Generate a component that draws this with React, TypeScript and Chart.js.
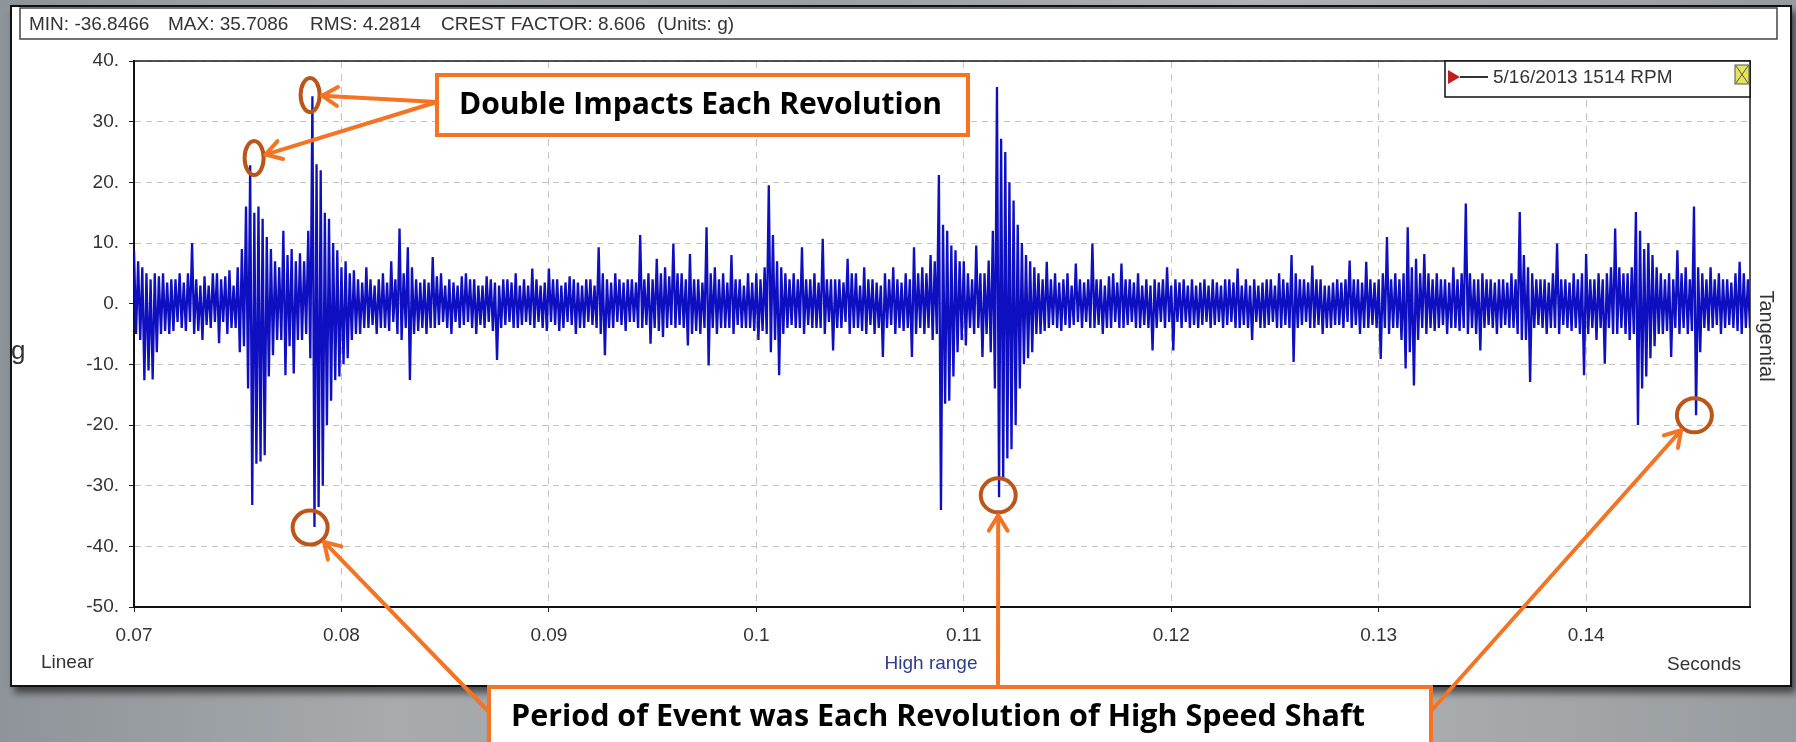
import React, { useEffect, useRef } from "react";
import { Chart, registerables } from "chart.js";

Chart.register(...registerables);

// ---------- data ----------
const sampleStart = 0.07; // seconds
const sampleInterval = 0.0001; // seconds between plotted samples
const waveform = [
  8.8, -5, 7, -6, 6, -12.6, 5, -11, 4, -12.5, 5, -8, 4.5, -5, 5, -4.5, 3.5, -5, 4, -4.5,
  4, -3, 5, -4, 3.5, -4.5, 5, -3, 10, -5, 4, -4.5, 3, -6, 4.5, -3.5, 3, -4, 5, -3,
  5, -6.5, 4, -3, 4.5, -5, 5.5, -4, 3, -4, 6, -8, 9, -7, 16, -14, 22.8, -33.2, 15, -26.4,
  16, -26, 14, -25, 11, -12, 9, -8.5, 7, -6, 6, -6, 12, -11.8, 8, -7, 9, -11.5, 7, -6,
  8.3, -6, 7, -5, 12, -9, 34.2, -36.8, 23, -33.5, 22, -30, 15, -20, 14, -16, 10, -12.6, 8.8, -12,
  6, -10, 7, -9, 5, -6, 5.5, -5, 4, -5, 3.5, -4, 6, -4, 4, -3.5, 3, -5, 4, -4,
  5, -4, 3.5, -4.5, 7, -3, 4, -5, 12.4, -6, 5, -4, 9.3, -12.6, 6, -5, 4, -4.5, 3.5, -4,
  4, -5, 3.5, -4, 7.7, -4, 4.5, -3.5, 5, -3, 3, -4, 4, -5, 3.5, -3, 3, -4, 4.5, -3.5,
  5, -3, 4, -4, 4, -5, 3, -3.5, 3, -4, 4.5, -3, 4, -4.5, 3.5, -9.3, 3, -4, 4, -3.5,
  4, -3, 3.5, -4, 5, -4, 3, -3.5, 4, -3, 3, -3.5, 5.8, -4, 4, -3, 3, -4, 3.5, -4.5,
  5.8, -3, 4, -3.5, 4, -4.5, 3, -4, 3.5, -3, 4.5, -3.5, 4, -5, 3.5, -4, 3, -4, 4, -3,
  4, -3.5, 3, -4, 9.3, -5, 5, -8.5, 4, -4, 3.5, -4, 5, -3, 4, -3.5, 3.5, -4.5, 4, -3,
  4, -3, 3.5, -4, 11.3, -4, 4, -3.5, 5, -6.6, 4, -4, 7.4, -4.5, 5, -5.5, 6, -4, 4.5, -3.5,
  9.9, -4, 5, -3.5, 5, -4, 4, -6.9, 8.2, -5, 4, -4.5, 4, -5, 3.5, -4, 12.6, -10.2, 5, -4,
  6, -5, 4, -4, 5, -4, 3.5, -4, 8, -5, 4, -3.5, 4, -4, 3, -4, 5, -4, 3.5, -4.5,
  5, -6, 4, -4.5, 6, -5, 19.5, -8, 11.3, -6, 7, -11.8, 6, -5, 5, -4, 4, -3.5, 5, -4,
  4, -4, 9.3, -5, 4, -3.5, 4, -4, 5, -4, 3.5, -4, 10.7, -5, 4, -3, 4, -7.7, 4, -4,
  4, -4, 3.5, -3, 7.4, -5, 5, -4, 5, -4, 3, -4.5, 6, -5, 4, -3.5, 4, -5, 3.5, -4,
  3, -8.8, 5, -4, 4, -3.5, 6, -5, 4, -4, 3.5, -4.5, 5, -4, 4, -8.8, 9.3, -5, 5, -4,
  6, -5, 5, -4, 8, -6, 7, -5, 21.2, -34, 13, -16.5, 12, -16, 9.6, -12, 8.8, -8, 7, -6,
  7, -6.9, 5, -4, 4, -5, 9.6, -4, 5, -8.8, 5, -5, 7.1, -8, 12, -14, 35.7, -31.9, 27.2, -29,
  25, -25.5, 20, -24, 17, -20, 13, -14, 10, -10, 8, -9, 7, -8, 6, -5, 5, -5, 4, -4.5,
  6.9, -4, 4, -3.5, 5, -4, 3.5, -4.5, 4, -3.5, 5, -4, 3, -3.5, 6.6, -3, 4, -4, 3.5, -3,
  4, -4, 9.9, -4, 4, -3.5, 4, -5, 3, -4, 4.5, -4, 5, -3, 3.5, -4, 6.6, -4, 4, -3.5,
  4, -3, 3.5, -4, 5, -4, 3, -3.5, 4, -4, 3, -7.7, 4, -4, 3.5, -3, 4, -4, 6, -3,
  3, -7.7, 4, -3, 3.5, -4, 4, -3, 3, -4, 4, -3.5, 3, -4, 3.5, -3.5, 4, -3, 3, -4,
  4, -3.5, 3.5, -3, 3, -4, 4, -3.5, 4, -3, 3.5, -4, 5.8, -4, 3, -3.5, 4, -4, 3, -6,
  4, -3, 3, -4, 3.5, -4, 4, -3.5, 4, -3, 3, -4, 5, -4, 4, -3.5, 3.5, -4, 8, -9.6,
  5, -4, 4, -3.5, 4, -3, 3.5, -4, 6.3, -4, 4, -3.5, 4, -5, 3, -4, 3, -4, 3.5, -3.5,
  4, -3.5, 3.5, -4, 4, -3, 7.1, -4, 4, -3.5, 4, -5, 3.5, -4, 6.9, -4, 4, -3.5, 3.5, -4,
  4, -9.1, 5, -4, 11, -5, 4, -4, 5, -4, 4, -6, 5, -10.7, 12.6, -8, 6, -13.5, 7.4, -6,
  5, -4, 8.2, -5, 5, -4, 4, -4.5, 5, -4, 4, -3.5, 4, -5, 3.5, -4, 6, -4, 4, -4.5,
  5, -4, 16.5, -5, 5, -4, 4, -5, 4, -7.7, 5, -4, 4, -3.5, 4, -4, 3.5, -5, 4, -4,
  4, -3.5, 3.5, -4, 5, -4, 4, -5, 15.1, -6, 8, -6, 6, -12.9, 5, -4, 4, -3.5, 4, -4,
  4, -5, 3.5, -4, 5, -4, 9.9, -5, 4, -3.5, 4, -4, 3.5, -4.5, 5, -4, 4, -5, 5, -11.8,
  8.2, -5, 4, -4, 4, -6, 5, -4, 4, -9.9, 5, -4, 6, -5, 12.4, -5, 6, -4, 5, -5,
  5, -6, 6, -5, 15.1, -20, 12, -14, 9, -12, 10, -9, 8, -7, 6, -5, 5, -5, 4, -4.5,
  5, -8.8, 4, -4, 8.8, -5, 5, -4, 6, -5, 4, -4.5, 16, -18.4, 6, -8, 5, -4, 4, -4.5,
  6, -4, 4, -3.5, 5, -5, 4, -4, 4, -3.5, 3.5, -4, 5, -4.5, 6.9, -5, 5, -4, 4, -4,
];

const xTickValues = [0.07, 0.08, 0.09, 0.1, 0.11, 0.12, 0.13, 0.14];
const yTickValues = [40, 30, 20, 10, 0, -10, -20, -30, -40, -50];
const xMin = 0.07;
const xMax = 0.1479;
const yMin = -50;
const yMax = 40;

const statsLabels = ["MIN: -36.8466", "MAX: 35.7086", "RMS: 4.2814", "CREST FACTOR: 8.606", "(Units: g)"];
const legendLabel = "5/16/2013 1514 RPM";
const yAxisTitle = "g";
const rightTitle = "Tangential";
const bottomLeftLabel = "Linear";
const bottomCenterLabel = "High range";
const bottomRightLabel = "Seconds";
const calloutTop = "Double Impacts Each Revolution";
const calloutBottom = "Period of Event was Each Revolution of High Speed Shaft";

// circled impacts, in data units (seconds, g)
const doubleImpactMarks = [
  { t: 0.07849, g: 34.4 },
  { t: 0.07579, g: 24.0 },
];
const periodMarks = [
  { t: 0.07849, g: -36.9 },
  { t: 0.11166, g: -31.6 },
  { t: 0.14522, g: -18.4 },
];

// ---------- layout / style ----------
const W = 1796;
const H = 742;
const FONT = '"Liberation Sans", Arial, sans-serif';
const BOLD = '"Open Sans", "Noto Sans", sans-serif';
const ORANGE = "#f47424";
const BROWN = "#bd5518";
const TEXT = "#333";

const statsX = [29, 168, 310, 441, 657];
const topBox = { x1: 437, y1: 75, x2: 968, y2: 135, textX: 459, textW: 483, textY: 105 };
const bottomBox = { x1: 489, y1: 687, x2: 1431, y2: 760, textX: 511, textW: 854, textY: 717 };
const topTail = { x: 437, y: 102 };
const bottomTails = [
  { x: 489, y: 712 },
  { x: 998, y: 687 },
  { x: 1431, y: 711 },
];

function drawArrow(ctx: CanvasRenderingContext2D, x1: number, y1: number, x2: number, y2: number) {
  ctx.beginPath();
  ctx.moveTo(x1, y1);
  ctx.lineTo(x2, y2);
  ctx.stroke();
  const a = Math.atan2(y2 - y1, x2 - x1);
  const L = 18;
  const s = 0.55;
  ctx.beginPath();
  ctx.moveTo(x2 - L * Math.cos(a - s), y2 - L * Math.sin(a - s));
  ctx.lineTo(x2, y2);
  ctx.lineTo(x2 - L * Math.cos(a + s), y2 - L * Math.sin(a + s));
  ctx.stroke();
}

function fitText(ctx: CanvasRenderingContext2D, text: string, x: number, y: number, width: number) {
  const m = ctx.measureText(text).width;
  ctx.save();
  ctx.translate(x, y);
  ctx.scale(width / m, 1);
  ctx.fillText(text, 0, 0);
  ctx.restore();
}

const decorPlugin = {
  id: "decor",
  afterDraw(chart: any) {
    const ctx: CanvasRenderingContext2D = chart.ctx;
    const area = chart.chartArea;
    const xs = chart.scales.x;
    const ys = chart.scales.y;
    ctx.save();

    // plot frame (top and right)
    ctx.strokeStyle = "#1a1a1a";
    ctx.lineWidth = 1.5;
    ctx.beginPath();
    ctx.moveTo(area.left, area.top);
    ctx.lineTo(area.right, area.top);
    ctx.lineTo(area.right, area.bottom);
    ctx.stroke();

    // header stats box
    ctx.fillStyle = "#fff";
    ctx.fillRect(20, 8, 1757, 31);
    ctx.strokeStyle = "#444";
    ctx.lineWidth = 1.5;
    ctx.strokeRect(20, 8, 1757, 31);
    ctx.fillStyle = TEXT;
    ctx.font = `19px ${FONT}`;
    ctx.textBaseline = "alphabetic";
    ctx.textAlign = "left";
    statsLabels.forEach((s, i) => ctx.fillText(s, statsX[i], 30));

    // legend box
    ctx.fillStyle = "#fff";
    ctx.fillRect(1445, area.top, area.right - 1445, 36);
    ctx.strokeStyle = "#111";
    ctx.lineWidth = 1.5;
    ctx.strokeRect(1445, area.top, area.right - 1445, 36);
    ctx.fillStyle = "#c0201a";
    ctx.beginPath();
    ctx.moveTo(1448, 70);
    ctx.lineTo(1448, 84);
    ctx.lineTo(1460, 77);
    ctx.closePath();
    ctx.fill();
    ctx.strokeStyle = "#333";
    ctx.lineWidth = 2;
    ctx.beginPath();
    ctx.moveTo(1460, 77);
    ctx.lineTo(1488, 77);
    ctx.stroke();
    ctx.fillStyle = TEXT;
    ctx.font = `19px ${FONT}`;
    ctx.textBaseline = "middle";
    ctx.fillText(legendLabel, 1493, 78);
    ctx.fillStyle = "#e4e45a";
    ctx.fillRect(1735, 65, 14, 19);
    ctx.strokeStyle = "#555";
    ctx.lineWidth = 1;
    ctx.strokeRect(1735, 65, 14, 19);
    ctx.beginPath();
    ctx.moveTo(1736, 66);
    ctx.lineTo(1748, 83);
    ctx.moveTo(1748, 66);
    ctx.lineTo(1736, 83);
    ctx.stroke();

    // axis side labels
    ctx.fillStyle = TEXT;
    ctx.font = `19px ${FONT}`;
    ctx.textBaseline = "middle";
    ctx.textAlign = "left";
    ctx.fillText(bottomLeftLabel, 41, 663);
    ctx.textAlign = "right";
    ctx.fillText(bottomRightLabel, 1741, 665);
    ctx.textAlign = "center";
    ctx.fillStyle = "#2a3c8c";
    ctx.fillText(bottomCenterLabel, 931, 664);
    ctx.fillStyle = TEXT;
    ctx.textAlign = "left";
    ctx.font = `26px ${FONT}`;
    ctx.fillText(yAxisTitle, 11, 352);
    ctx.save();
    ctx.translate(1766, 336);
    ctx.rotate(Math.PI / 2);
    ctx.font = `20px ${FONT}`;
    ctx.textAlign = "center";
    ctx.fillText(rightTitle, 0, 0);
    ctx.restore();

    // callout boxes
    ctx.lineWidth = 4;
    ctx.strokeStyle = ORANGE;
    ctx.fillStyle = "#fff";
    for (const b of [topBox, bottomBox]) {
      ctx.fillRect(b.x1, b.y1, b.x2 - b.x1, b.y2 - b.y1);
      ctx.strokeRect(b.x1, b.y1, b.x2 - b.x1, b.y2 - b.y1);
    }
    ctx.fillStyle = "#000";
    ctx.font = `bold 31px ${BOLD}`;
    ctx.textAlign = "left";
    ctx.textBaseline = "middle";
    fitText(ctx, calloutTop, topBox.textX, topBox.textY, topBox.textW);
    fitText(ctx, calloutBottom, bottomBox.textX, bottomBox.textY, bottomBox.textW);

    // circles
    ctx.strokeStyle = BROWN;
    ctx.lineWidth = 4;
    const upper = doubleImpactMarks.map((m) => ({ x: xs.getPixelForValue(m.t), y: ys.getPixelForValue(m.g) }));
    upper.forEach((p) => {
      ctx.beginPath();
      ctx.ellipse(p.x, p.y, 9.5, 17, 0, 0, Math.PI * 2);
      ctx.stroke();
    });
    const lower = periodMarks.map((m) => ({ x: xs.getPixelForValue(m.t), y: ys.getPixelForValue(m.g) }));
    lower.forEach((p) => {
      ctx.beginPath();
      ctx.ellipse(p.x, p.y, 17.5, 17, 0, 0, Math.PI * 2);
      ctx.stroke();
    });

    // arrows
    ctx.strokeStyle = ORANGE;
    ctx.lineWidth = 4;
    ctx.lineCap = "round";
    ctx.lineJoin = "round";
    upper.forEach((p) => {
      const dx = topTail.x - p.x;
      const dy = topTail.y - p.y;
      const d = Math.hypot(dx, dy);
      drawArrow(ctx, topTail.x, topTail.y, p.x + (dx / d) * 12, p.y + (dy / d) * 12);
    });
    lower.forEach((p, i) => {
      const t = bottomTails[i];
      const dx = t.x - p.x;
      const dy = t.y - p.y;
      const d = Math.hypot(dx, dy);
      drawArrow(ctx, t.x, t.y, p.x + (dx / d) * 20, p.y + (dy / d) * 20);
    });

    ctx.restore();
  },
};

export default function App() {
  const ref = useRef<HTMLCanvasElement>(null);

  useEffect(() => {
    document.body.style.margin = "0";
    const points = waveform.map((v, i) => ({ x: sampleStart + i * sampleInterval, y: v }));
    const chart = new Chart(ref.current as HTMLCanvasElement, {
      type: "line",
      data: {
        datasets: [
          {
            label: legendLabel,
            data: points,
            borderColor: "#0f0fc2",
            borderWidth: 2.3,
            borderJoinStyle: "bevel",
            pointRadius: 0,
            tension: 0,
            fill: false,
          },
        ],
      },
      options: {
        responsive: false,
        animation: false,
        devicePixelRatio: 1,
        parsing: false as any,
        layout: { padding: { left: 0, top: 61, right: 46, bottom: 75 } },
        plugins: { legend: { display: false }, tooltip: { enabled: false } },
        scales: {
          x: {
            type: "linear",
            min: xMin,
            max: xMax,
            afterBuildTicks: (s: any) => {
              s.ticks = xTickValues.map((v) => ({ value: v }));
            },
            afterFit: (s: any) => {
              s.height = 60;
            },
            ticks: {
              autoSkip: false,
              maxRotation: 0,
              padding: 12,
              color: TEXT,
              font: { family: FONT, size: 19 },
              callback: (v: any) => String(Number(Number(v).toFixed(2))),
            },
            grid: { color: "#c4c4c4", lineWidth: 1, drawTicks: true, tickLength: 5, tickColor: "#222" },
            border: { display: true, color: "#111", width: 2, dash: [7, 6] },
          },
          y: {
            type: "linear",
            min: yMin,
            max: yMax,
            afterBuildTicks: (s: any) => {
              s.ticks = yTickValues.map((v) => ({ value: v }));
            },
            afterFit: (s: any) => {
              s.width = 134;
            },
            ticks: {
              padding: 10,
              color: TEXT,
              font: { family: FONT, size: 19 },
              callback: (v: any) => `${v}.`,
            },
            grid: { color: "#c4c4c4", lineWidth: 1, drawTicks: true, tickLength: 5, tickColor: "#222" },
            border: { display: true, color: "#111", width: 2, dash: [6, 5] },
          },
        },
      },
      plugins: [decorPlugin],
    } as any);
    return () => chart.destroy();
  }, []);

  return (
    <div
      style={{
        position: "relative",
        width: W,
        height: H,
        overflow: "hidden",
        background:
          "linear-gradient(90deg, #8e9499 0%, #a7abae 22%, #9aa0a4 45%, #b0b3b5 70%, #979ca0 100%)",
      }}
    >
      <div
        style={{
          position: "absolute",
          left: 10,
          top: 5,
          width: 1778,
          height: 678,
          border: "2px solid #111",
          background: "#fff",
          boxShadow: "4px 6px 7px rgba(0,0,0,0.55)",
        }}
      />
      <canvas ref={ref} width={W} height={H} style={{ position: "absolute", left: 0, top: 0, width: W, height: H }} />
    </div>
  );
}
